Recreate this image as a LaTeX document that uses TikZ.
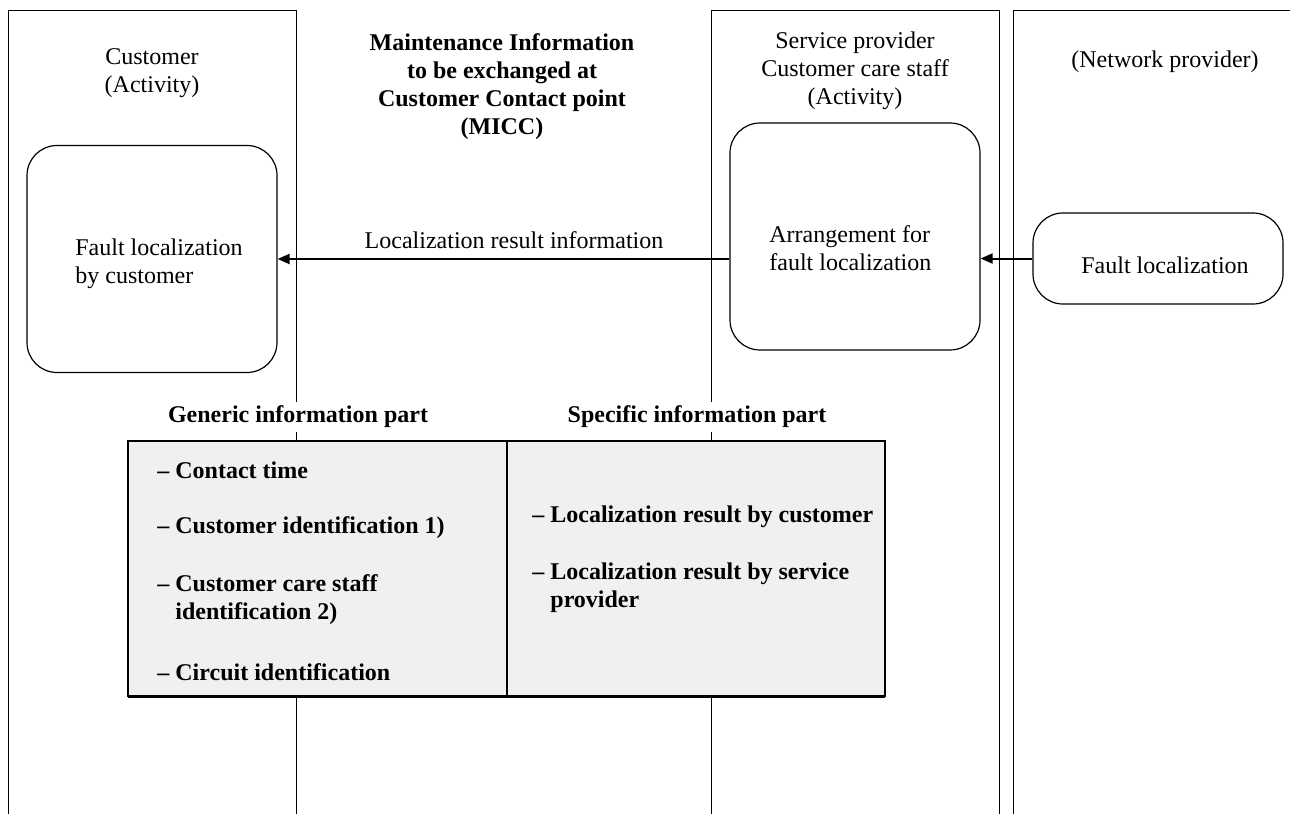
\documentclass[tikz,border=0pt]{standalone}
\usepackage{fontspec}
\setmainfont{Liberation Serif}
\usetikzlibrary{arrows.meta}
\begin{document}
\begin{tikzpicture}[x=0.5pt,y=-0.5pt,
  every node/.style={font=\fontsize{12}{14}\selectfont, inner sep=0pt},
  lane/.style={line width=0.5pt},
  actbox/.style={draw, line width=0.6pt, rounded corners=15pt},
  arr/.style={line width=1pt, -{Triangle[length=6pt,width=5pt]}},
  bld/.style={font=\fontsize{12}{14}\selectfont\bfseries},
  item/.style={bld, anchor=west, align=left},
  head/.style={bld, fill=white, inner xsep=2pt, inner ysep=2pt}]
\useasboundingbox (0,0) rectangle (1290,814);
% lanes
\draw[lane] (8,814) -- (8,10) -- (296,10) -- (296,814);
\draw[lane] (711,814) -- (711,10) -- (999,10) -- (999,814);
\draw[lane] (1013,814) -- (1013,10) -- (1290,10);
% lane titles
\node[align=center] (custt) at (152,73) {Customer\\(Activity)};
\node[align=center] (spt) at (855,71) {Service provider\\Customer care staff\\(Activity)};
\node (npt) at (1165,62) {(Network provider)};
% title
\node[bld, align=center] (title) at (502,87) {Maintenance Information\\to be exchanged at\\Customer Contact point\\(MICC)};
% activity boxes
\node[actbox, minimum width=125pt, minimum height=113.5pt] (cbox) at (152,259) {};
\node[align=left, anchor=west] (ctext) at (75,264) {Fault localization\\by customer};
\node[actbox, minimum width=125pt, minimum height=113.5pt] (sbox) at (855,236.5) {};
\node[align=left, anchor=west] (stext) at (769,248) {Arrangement for\\fault localization};
\node[actbox, minimum width=125pt, minimum height=45.5pt] (nbox) at (1158,258.5) {};
\node (ntext) at (1165,265) {Fault localization};
% arrows
\draw[arr] (sbox.west |- cbox.east) -- (cbox.east);
\node (lri) at (514,240) {Localization result information};
\draw[arr] (nbox.west) -- (nbox.west -| sbox.east);
% information box
\node[head] (gh) at (298,417) {Generic information part};
\node[head] (sh) at (697,417) {Specific information part};
\draw[line width=0.6pt, fill=black!6] (128,441) rectangle (885,696);
\draw[line width=0.6pt] (507,441) -- (507,696);
\draw[line width=1pt] (128,697) -- (885,697);
\node[item] (g1) at (157,470) {-- Contact time};
\node[item] (g2) at (157,528) {-- Customer identification 1)};
\node[item] (g3) at (157,600) {-- Customer care staff\\\hspace*{9pt}identification 2)};
\node[item] (g4) at (157,672) {-- Circuit identification};
\node[item] (s1) at (532,517) {-- Localization result by customer};
\node[item] (s2) at (532,588) {-- Localization result by service\\\hspace*{9pt}provider};
\end{tikzpicture}
\end{document}
